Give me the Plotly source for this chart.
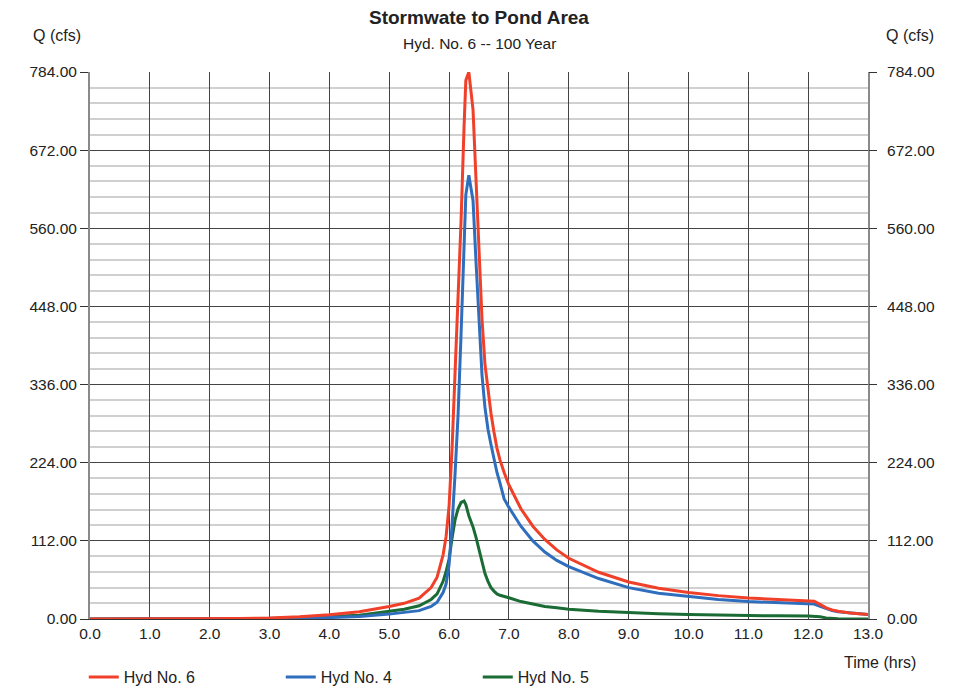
import plotly.graph_objects as go

# Hydrograph ordinates (time in hours, flow in cfs)
time_hrs = [0.0, 1.0, 2.0, 2.5, 3.0, 3.5, 4.0, 4.5, 5.0, 5.25, 5.5, 5.7, 5.8, 5.9,
            5.95, 6.0, 6.05, 6.1, 6.15, 6.2, 6.25, 6.28, 6.33, 6.4, 6.45, 6.5,
            6.55, 6.6, 6.65, 6.7, 6.75, 6.8, 6.85, 6.9, 6.92, 7.0, 7.2, 7.4,
            7.6, 7.8, 8.0, 8.5, 9.0, 9.5, 10.0, 10.5, 11.0, 11.5, 12.0, 12.1,
            12.2, 12.3, 12.4, 12.5, 12.7, 13.0]

hyd6_cfs = [0.0, 0.1, 0.4, 0.8, 1.5, 3.2, 6.0, 10.5, 18.0, 22.5, 30.0, 45.0, 60.0, 92.0,
            118.0, 162.0, 245.0, 345.0, 445.0, 570.0, 705.0, 772.0, 784.0, 730.0, 630.0, 530.0,
            430.0, 365.0, 325.0, 295.0, 268.0, 245.0, 228.0, 214.0, 210.0, 192.0, 158.0, 133.0,
            114.0, 99.0, 87.0, 67.0, 53.0, 44.0, 38.0, 33.5, 30.0, 28.0, 26.0, 25.5,
            21.0, 16.0, 13.0, 11.0, 8.6, 6.5]

hyd4_cfs = [0.0, 0.0, 0.1, 0.2, 0.5, 1.0, 2.0, 3.5, 7.0, 9.0, 12.0, 18.0, 24.0, 38.0,
            50.0, 78.0, 135.0, 208.0, 292.0, 408.0, 540.0, 608.0, 636.0, 600.0, 512.0, 428.0,
            350.0, 303.0, 272.0, 250.0, 228.0, 210.0, 195.0, 180.0, 172.0, 160.0, 133.0, 112.0,
            96.0, 84.0, 75.0, 58.0, 45.0, 37.0, 32.0, 28.0, 25.0, 23.5, 22.0, 21.5,
            18.0, 14.5, 12.0, 10.5, 8.5, 6.5]

hyd5_cfs = [0.0, 0.0, 0.1, 0.3, 0.8, 1.8, 3.2, 5.5, 11.0, 14.0, 19.0, 28.0, 36.0, 54.0,
            68.0, 86.0, 116.0, 142.0, 158.0, 167.0, 169.0, 164.0, 148.0, 132.0, 117.0, 100.0,
            82.0, 65.0, 54.0, 45.0, 40.0, 36.0, 34.0, 33.0, 32.5, 30.5, 25.0, 21.0,
            18.0, 16.0, 14.0, 11.0, 9.0, 7.5, 6.3, 5.5, 4.9, 4.5, 4.2, 4.1,
            3.2, 1.6, 0.8, 0.4, 0.1, 0.0]

# (name, values, colour, legend rank, y axis); the combined hydrograph sits on the
# right-hand axis, which shares the same 0-784 cfs scale.
series = [
    ("Hyd No. 5", hyd5_cfs, "#1b6b34", 3, "y"),
    ("Hyd No. 4", hyd4_cfs, "#2f6dbd", 2, "y"),
    ("Hyd No. 6", hyd6_cfs, "#f0402a", 1, "y2"),
]

Y_MAX = 784.0
FONT = "Liberation Sans, Arial, sans-serif"

fig = go.Figure()
for name, values, color, rank, yax in series:
    fig.add_trace(go.Scatter(
        x=time_hrs, y=values, name=name, mode="lines", yaxis=yax,
        line=dict(color=color, width=3), legendrank=rank,
    ))

axis_font = dict(family=FONT, size=15.5, color="#222")

fig.update_layout(
    width=957, height=688,
    margin=dict(l=90, r=89, t=72, b=69, autoexpand=False),
    paper_bgcolor="white", plot_bgcolor="white",
    font=dict(family=FONT, size=16, color="#222"),
    xaxis=dict(
        range=[0, 13], tick0=0, dtick=1, tickformat=".1f",
        showgrid=True, gridcolor="#444", gridwidth=1,
        showline=True, linecolor="#333", linewidth=1,
        ticks="", zeroline=False, tickfont=axis_font,
    ),
    yaxis=dict(
        range=[0, Y_MAX], tick0=0, dtick=112, tickformat=".2f",
        showgrid=True, gridcolor="#444", gridwidth=1,
        minor=dict(dtick=22.4, tick0=0, showgrid=True, gridcolor="#d0d0d0", gridwidth=2, ticks=""),
        showline=True, linecolor="#8a8a8a", linewidth=2, mirror=True,
        ticks="outside", ticklen=8, tickcolor="#333", tickwidth=1,
        zeroline=False, tickfont=axis_font,
    ),
    yaxis2=dict(
        range=[0, Y_MAX], tick0=0, dtick=112, tickformat=".2f",
        overlaying="y", side="right", showgrid=False,
        ticks="outside", ticklen=8, tickcolor="#333", tickwidth=1,
        ticklabelstandoff=7,
        showline=False, zeroline=False, tickfont=axis_font,
    ),
    legend=dict(
        orientation="h", x=-0.008, xanchor="left", y=-0.106, yanchor="middle",
        entrywidth=152, entrywidthmode="pixels",
        font=dict(family=FONT, size=16, color="#222"),
        bgcolor="rgba(0,0,0,0)",
    ),
    showlegend=True,
)

annotations = [
    dict(text="<b>Stormwate to Pond Area</b>", x=0.5, y=1.1005, font=dict(size=19)),
    dict(text="Hyd. No. 6 -- 100 Year", x=0.5, y=1.0512, font=dict(size=15.5)),
    dict(text="Q (cfs)", x=-0.0424, y=1.0676, font=dict(size=16)),
    dict(text="Q (cfs)", x=1.054, y=1.0676, font=dict(size=16)),
    dict(text="Time (hrs)", x=1.0154, y=-0.0804, font=dict(size=16)),
]
for a in annotations:
    fig.add_annotation(xref="paper", yref="paper", showarrow=False,
                       xanchor="center", yanchor="middle", **a)

fig.write_html("out.html")
